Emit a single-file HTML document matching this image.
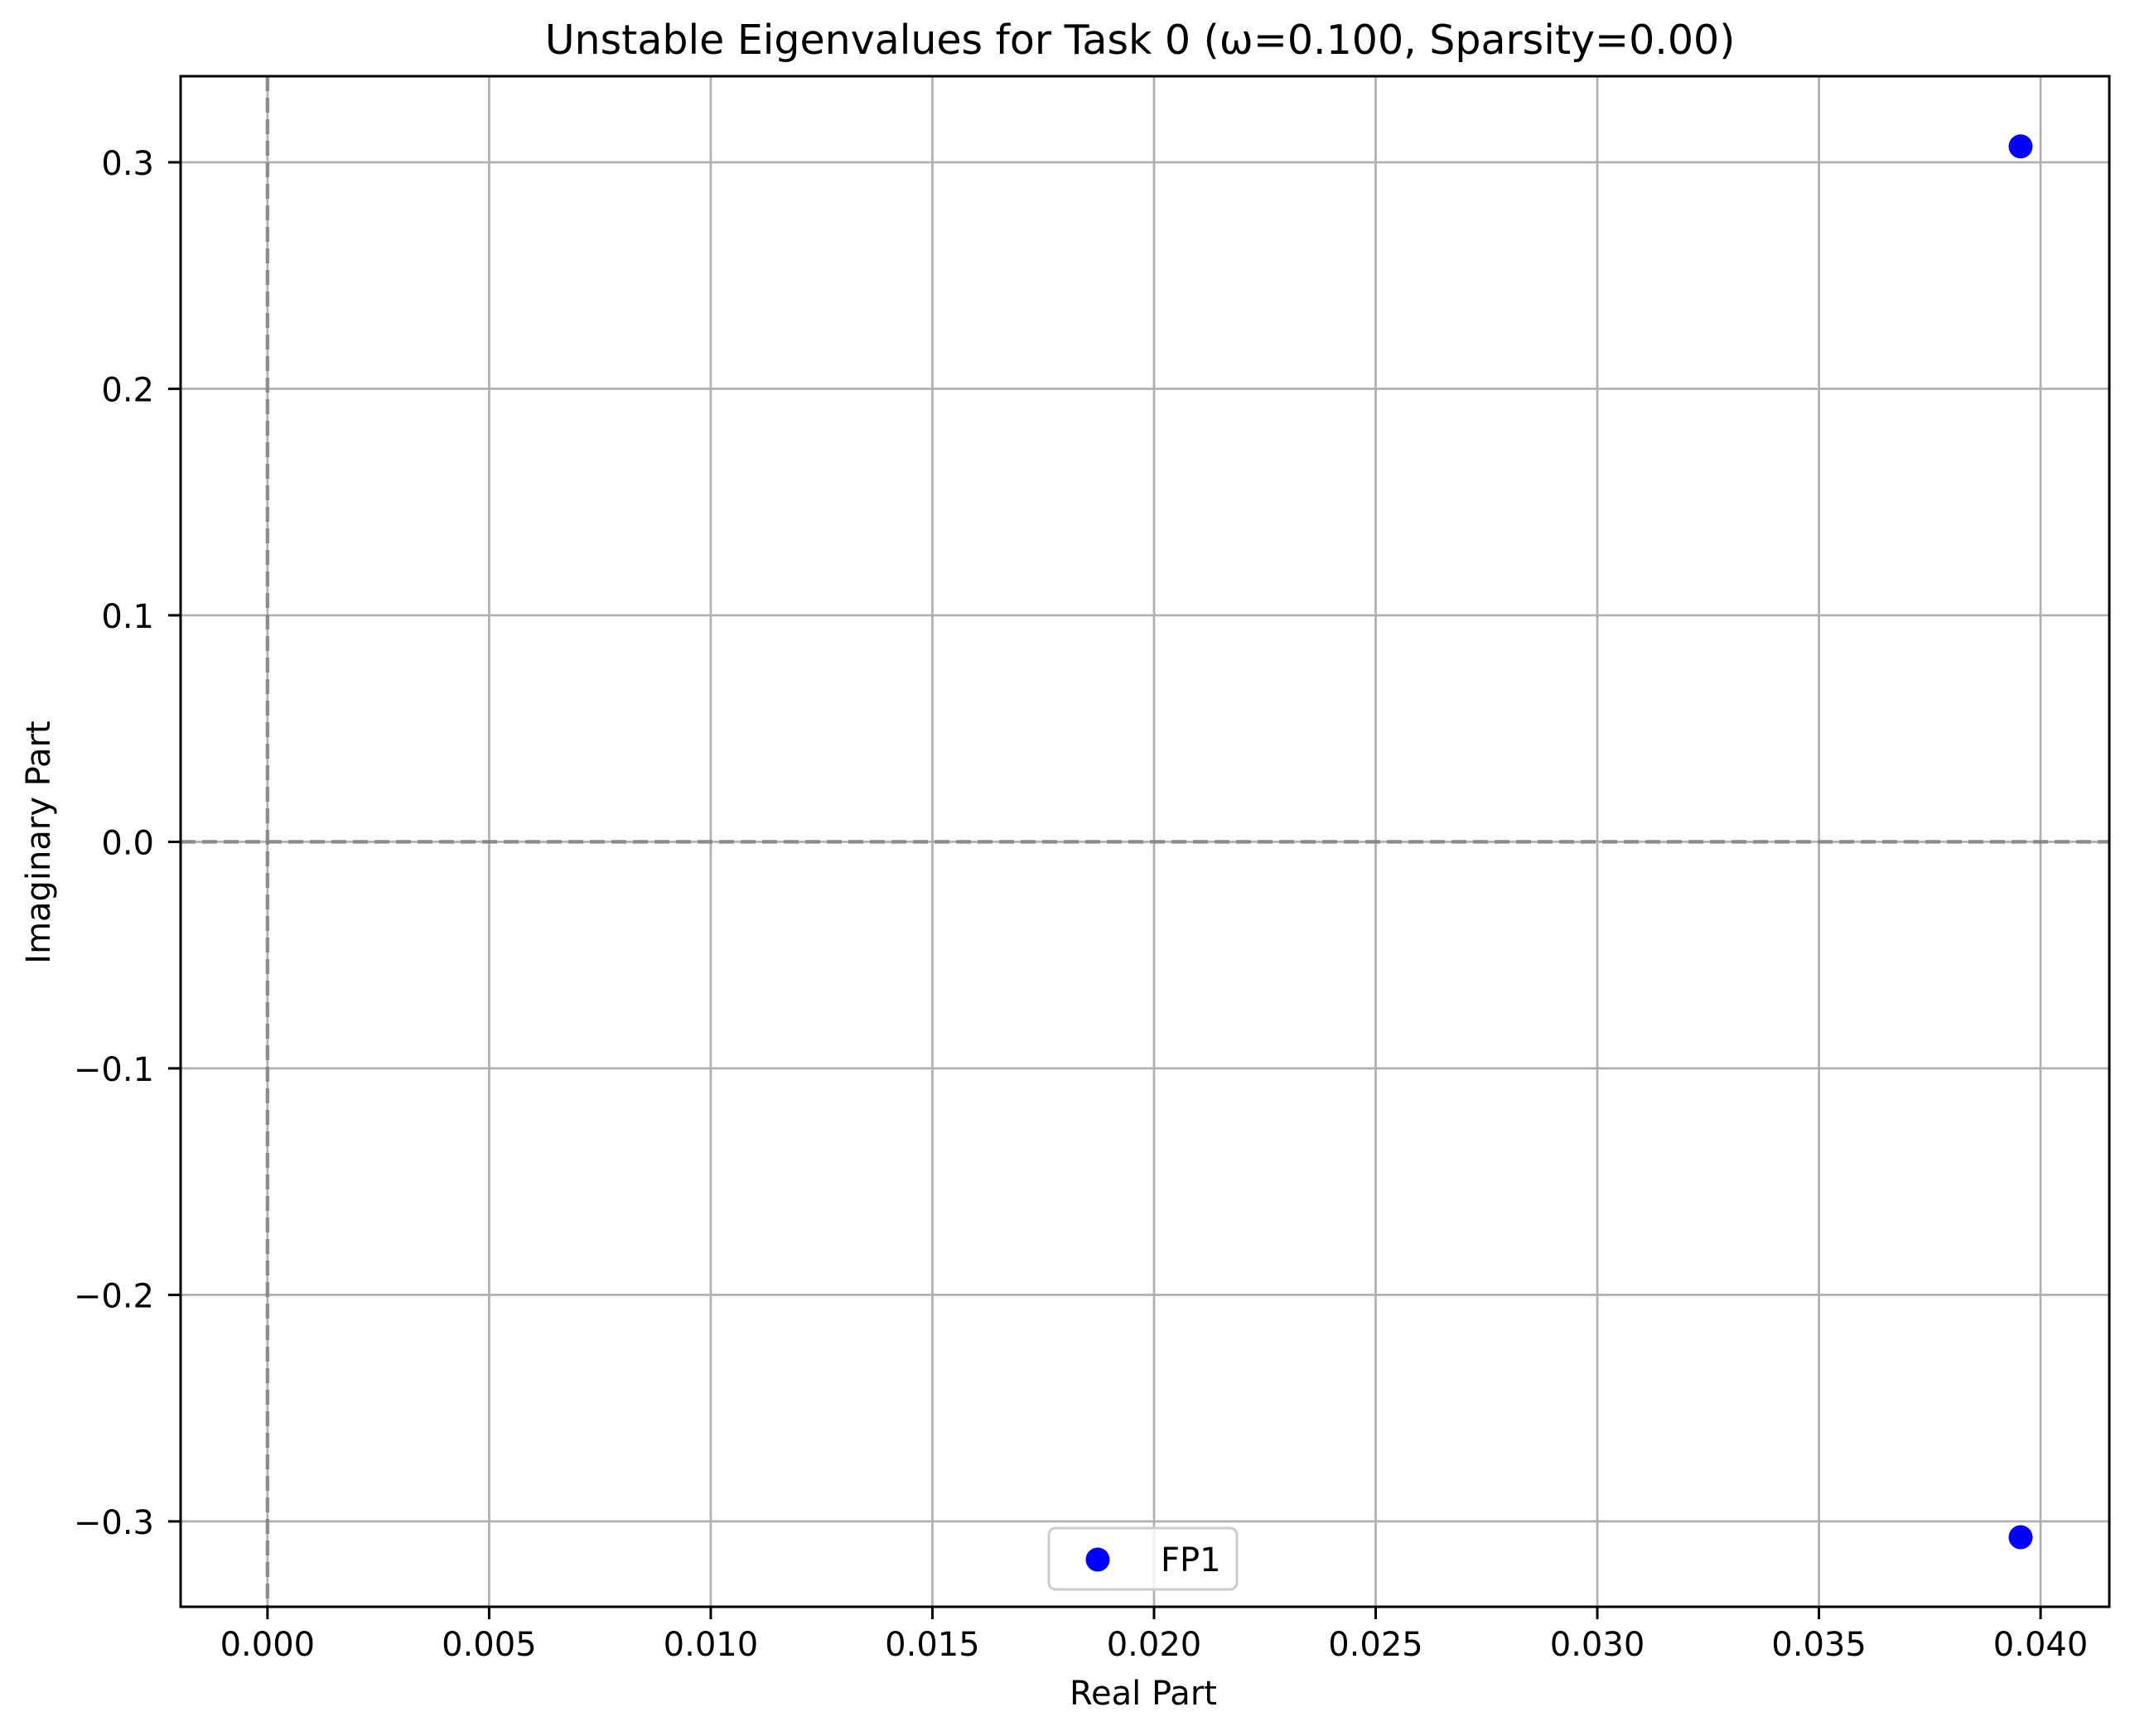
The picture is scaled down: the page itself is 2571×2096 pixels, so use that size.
<!DOCTYPE html>
<html><head><meta charset="utf-8"><style>
html,body{margin:0;padding:0;background:#fff;}
svg{display:block;font-family:"DejaVu Sans","Liberation Sans",sans-serif;}
</style></head><body>
<svg id="chart" width="2571" height="2096" viewBox="0 0 2571 2096" xmlns="http://www.w3.org/2000/svg">
<rect width="2571" height="2096" fill="#fff"/>
<text x="1376" y="65" font-size="49" text-anchor="middle">Unstable Eigenvalues for Task 0 (ω=0.100, Sparsity=0.00)</text>
<g id="grid"></g>
<g id="refs"></g>
<g id="marks"></g>
<rect x="218" y="92" width="2328" height="1848" fill="none" stroke="#000" stroke-width="3"/>
<g id="ticks"></g>
<text x="1380" y="2058" font-size="40" text-anchor="middle">Real Part</text>
<text transform="translate(60,1017) rotate(-90)" font-size="40" text-anchor="middle">Imaginary Part</text>
<g>
<rect x="1266" y="1845" width="227" height="74" rx="8" fill="#fff" fill-opacity="0.8" stroke="#ccc" stroke-width="3"/>
<circle cx="1325" cy="1883" r="14.5" fill="#0000ff"/>
<text x="1401" y="1897" font-size="40">FP1</text>
</g>
</svg>
<script>
const realParts = [0.03955, 0.03955];
const imagParts = [0.307, -0.307];
const xTickValues = [0, 0.005, 0.010, 0.015, 0.020, 0.025, 0.030, 0.035, 0.040];
const xTickLabels = ["0.000","0.005","0.010","0.015","0.020","0.025","0.030","0.035","0.040"];
const yTickValues = [-0.3, -0.2, -0.1, 0, 0.1, 0.2, 0.3];
const yTickLabels = ["\u22120.3","\u22120.2","\u22120.1","0.0","0.1","0.2","0.3"];

const X0 = 218, X1 = 2546, Y0 = 92, Y1 = 1940;
const xMin = -0.00196, xMax = 0.04155, yMin = -0.3377, yMax = 0.338;
function sx(v){ return X0 + (v - xMin) / (xMax - xMin) * (X1 - X0); }
function sy(v){ return Y1 - (v - yMin) / (yMax - yMin) * (Y1 - Y0); }
const NS = "http://www.w3.org/2000/svg";
function mk(tag, attrs, parent){
  const e = document.createElementNS(NS, tag);
  for (const k in attrs) e.setAttribute(k, attrs[k]);
  parent.appendChild(e);
  return e;
}
const grid = document.getElementById('grid');
const ticks = document.getElementById('ticks');
const refs = document.getElementById('refs');
const marks = document.getElementById('marks');

xTickValues.forEach((v, i) => {
  const x = sx(v);
  const g = mk('line', {x1:x, x2:x, y1:Y0, y2:Y1, stroke:'#b0b0b0', 'stroke-width':2.7}, grid);
  
  
  const t = mk('line', {x1:x, x2:x, y1:Y1, y2:Y1+15, stroke:'#000', 'stroke-width':3}, ticks);
  
  
  const l = mk('text', {x:x, y:1999, 'font-size':40, 'text-anchor':'middle'}, ticks);
  l.textContent = xTickLabels[i];
  
  
});
yTickValues.forEach((v, i) => {
  const y = sy(v);
  const g = mk('line', {x1:X0, x2:X1, y1:y, y2:y, stroke:'#b0b0b0', 'stroke-width':2.7}, grid);
  
  
  const t = mk('line', {x1:X0-15, x2:X0, y1:y, y2:y, stroke:'#000', 'stroke-width':3}, ticks);
  
  
  const l = mk('text', {x:186, y:y+15, 'font-size':40, 'text-anchor':'end'}, ticks);
  l.textContent = yTickLabels[i];
  
  
});
const h = mk('line', {x1:X0, x2:X1, y1:sy(0), y2:sy(0), stroke:'#808080', 'stroke-width':4.5, 'stroke-dasharray':'18 8', 'stroke-opacity':0.8}, refs);


const vline = mk('line', {x1:sx(0), x2:sx(0), y1:Y0, y2:Y1, stroke:'#808080', 'stroke-width':4.5, 'stroke-dasharray':'18 8', 'stroke-opacity':0.8}, refs);


realParts.forEach((r, i) => {
  const c = mk('circle', {cx:sx(r), cy:sy(imagParts[i]), r:14.5, fill:'#0000ff'}, marks);
  
  
});
</script>
</body></html>
